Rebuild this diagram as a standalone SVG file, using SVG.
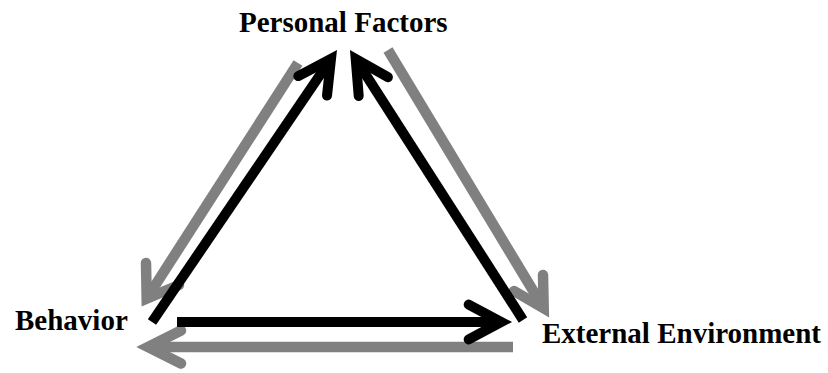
<svg xmlns="http://www.w3.org/2000/svg" width="828" height="373" viewBox="0 0 828 373">
  <style>
    .lbl { font-family: "Liberation Serif", "Times New Roman", serif; font-weight: bold; font-size: 29px; fill: #000; }
    .shaft { fill: none; stroke-linecap: butt; }
    .head { fill: none; stroke-linecap: round; stroke-linejoin: miter; stroke-miterlimit: 10; }
    .gray { stroke: #808080; stroke-width: 10.5; }
    .black { stroke: #000; stroke-width: 10; }
  </style>
  <rect width="828" height="373" fill="#fff"/>
  <g id="connectors">
    <!-- gray arrows (drawn beneath) -->
    <g id="gray-personal-to-behavior">
      <line class="shaft gray" x1="298" y1="63" x2="147" y2="298"/>
      <polyline class="head gray" points="146,263 146.7,298.7 179,285"/>
    </g>
    <g id="gray-personal-to-external">
      <line class="shaft gray" x1="388" y1="50" x2="543.7" y2="308.3"/>
      <polyline class="head gray" points="543,275 543.7,308.3 514,291"/>
    </g>
    <g id="gray-external-to-behavior">
      <line class="shaft gray" x1="513" y1="347" x2="148" y2="347"/>
      <polyline class="head gray" points="181,330.5 148,347 181,363.5"/>
    </g>
    <!-- black arrows -->
    <g id="black-behavior-to-personal">
      <line class="shaft black" x1="152" y1="322" x2="331" y2="58.8"/>
      <polyline class="head black" points="298.3,76.1 331,58.8 327,95.6"/>
    </g>
    <g id="black-external-to-personal">
      <line class="shaft black" x1="523" y1="320" x2="355.7" y2="59"/>
      <polyline class="head black" points="387.9,77.2 355.7,59 358.7,95.9"/>
    </g>
    <g id="black-behavior-to-external">
      <line class="shaft black" x1="177" y1="322" x2="501.4" y2="322"/>
      <polyline class="head black" points="468.7,304.6 501.4,322 468.7,339.4"/>
    </g>
  </g>
  <g id="node-personal-factors">
    <text class="lbl" x="239" y="32">Personal Factors</text>
  </g>
  <g id="node-behavior">
    <text class="lbl" x="15" y="330">Behavior</text>
  </g>
  <g id="node-external-environment">
    <text class="lbl" x="542" y="343">External Environment</text>
  </g>
</svg>
